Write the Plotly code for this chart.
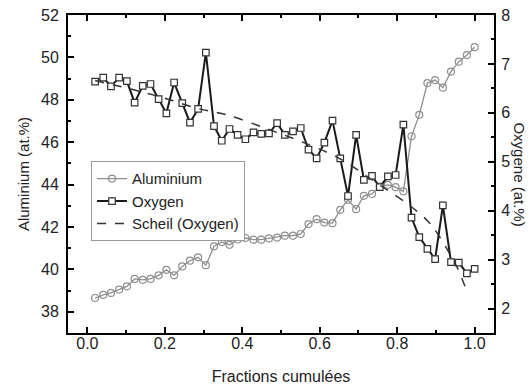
import plotly.graph_objects as go

# cumulative fraction of each analysed slice
fractions = [0.020, 0.041, 0.061, 0.082, 0.102, 0.122, 0.143, 0.163, 0.184, 0.204,
             0.224, 0.245, 0.265, 0.286, 0.306, 0.327, 0.347, 0.367, 0.388, 0.408,
             0.429, 0.449, 0.469, 0.490, 0.510, 0.531, 0.551, 0.571, 0.592, 0.612,
             0.633, 0.653, 0.673, 0.694, 0.714, 0.735, 0.755, 0.776, 0.796, 0.816,
             0.837, 0.857, 0.878, 0.898, 0.918, 0.939, 0.959, 0.980, 1.000]

aluminium = [38.65, 38.80, 38.89, 39.05, 39.20, 39.55, 39.51, 39.55, 39.72, 39.98,
             39.72, 40.14, 40.41, 40.57, 40.20, 41.09, 41.29, 41.16, 41.41, 41.48,
             41.40, 41.40, 41.46, 41.50, 41.59, 41.59, 41.67, 42.14, 42.37, 42.21,
             42.18, 42.81, 43.28, 42.84, 43.47, 43.56, 43.91, 43.99, 43.88, 43.68,
             46.28, 47.29, 48.79, 48.93, 48.57, 49.33, 49.80, 50.11, 50.48]

oxygen = [6.64, 6.72, 6.54, 6.72, 6.65, 6.21, 6.55, 6.59, 6.28, 5.99,
          6.62, 6.20, 5.80, 6.08, 7.23, 5.73, 5.43, 5.67, 5.55, 5.46,
          5.60, 5.57, 5.58, 5.79, 5.55, 5.62, 5.69, 5.25, 5.07, 5.39,
          5.84, 5.07, 4.30, 5.55, 4.63, 4.71, 4.48, 4.70, 4.73, 5.76,
          3.86, 3.46, 3.22, 3.01, 4.11, 2.95, 2.94, 2.72, 2.81]

# Scheil curve
scheil_x = [0.02, 0.12, 0.20, 0.285, 0.36, 0.465, 0.55, 0.65, 0.75, 0.83,
            0.88, 0.906, 0.94, 0.958, 0.98]
scheil_y = [6.66, 6.47, 6.30, 6.09, 5.96, 5.67, 5.42, 5.07, 4.55, 4.12,
            3.78, 3.51, 3.06, 2.79, 2.35]

FONT = "Liberation Sans, Arial, sans-serif"

fig = go.Figure()
fig.add_trace(go.Scatter(
    x=fractions, y=aluminium, name="Aluminium", mode="lines+markers",
    line=dict(color="#8f8f8f", width=1.3),
    marker=dict(symbol="circle-open", size=7, color="#8f8f8f", line=dict(width=1.2)),
))
fig.add_trace(go.Scatter(
    x=fractions, y=oxygen, name="Oxygen", mode="lines+markers", yaxis="y2",
    line=dict(color="#1a1a1a", width=2),
    marker=dict(symbol="square", size=6.5, color="white", line=dict(color="#333333", width=1.2)),
))
fig.add_trace(go.Scatter(
    x=scheil_x, y=scheil_y, name="Scheil (Oxygen)", mode="lines", yaxis="y2",
    line=dict(color="#333333", width=1.5, dash="dash", shape="spline"),
))

axis_common = dict(
    showline=True, linewidth=2, linecolor="black", showgrid=False, zeroline=False,
    ticks="inside", ticklen=6, tickwidth=1.5, tickcolor="black",
    tickfont=dict(size=16, color="#222"), automargin=False,
)

fig.update_layout(
    width=531, height=387,
    margin=dict(l=68, r=37, t=15, b=54, autoexpand=False),
    plot_bgcolor="white", paper_bgcolor="white",
    font=dict(family=FONT, size=15, color="#222"),
    xaxis=dict(
        range=[-0.05, 1.05], tick0=0, dtick=0.2, tickformat=".1f", mirror="ticks",
        minor=dict(dtick=0.1, ticks="inside", ticklen=3, tickcolor="black"),
        title=dict(text="Fractions cumulées", font=dict(size=16), standoff=20),
        ticklabelstandoff=-5,
        **axis_common,
    ),
    yaxis=dict(
        range=[37, 52], tick0=38, dtick=2,
        minor=dict(dtick=1, ticks="inside", ticklen=3, tickcolor="black"),
        title=dict(text="Aluminium (at.%)", font=dict(size=15), standoff=8),
        ticklabelstandoff=4,
        **axis_common,
    ),
    yaxis2=dict(
        range=[1.5, 8], tick0=2, dtick=1, overlaying="y", side="right",
        minor=dict(dtick=0.5, ticks="inside", ticklen=3, tickcolor="black"),
        ticklabelstandoff=2,
        **axis_common,
    ),
    legend=dict(
        x=0.054, y=0.54, xanchor="left", yanchor="top",
        bordercolor="#9a9a9a", borderwidth=1, bgcolor="white",
        font=dict(size=15, color="#222"), itemwidth=30, tracegroupgap=0,
    ),
    showlegend=True,
)

fig.add_annotation(
    text="Oxygene (at.%)", textangle=90, showarrow=False,
    xref="paper", yref="paper", x=1.06, y=0.5, xanchor="center", yanchor="middle",
    font=dict(size=15, color="#222"),
)

# page body has a default 8px margin; drop it so the figure sits at the window origin
fig.write_html("out.html", config={"displayModeBar": False},
               post_script="document.body.style.margin='0';")
